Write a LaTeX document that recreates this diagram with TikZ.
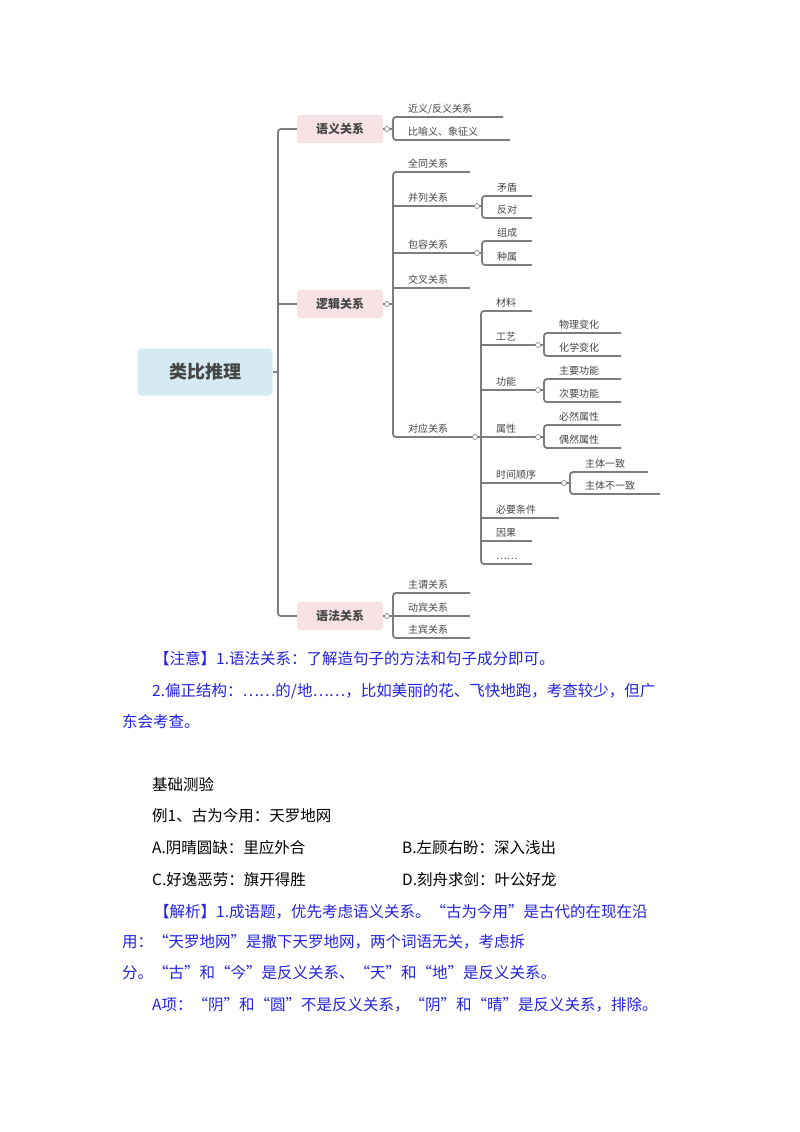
\documentclass[tikz,border=0pt]{standalone}
\usepackage{fontspec}
\setmainfont{Noto Sans CJK SC}
\newfontfamily\cjk{Noto Sans CJK SC}
\definecolor{ln}{RGB}{125,125,125}
\definecolor{pinkbox}{RGB}{246,226,229}
\definecolor{rootbox}{RGB}{214,234,242}
\definecolor{txtblue}{RGB}{35,35,225}
\definecolor{mtxt}{RGB}{70,70,70}
\tikzset{
 br/.style={draw=ln,line width=1.8pt,rounded corners=3pt},
 lab/.style={font=\fontsize{10}{12}\selectfont,text=mtxt,anchor=base west,inner sep=0},
 knob/.style={draw=ln,line width=0.6pt,fill=white,circle,inner sep=0,minimum size=5pt},
 mbox/.style={fill=pinkbox,rounded corners=3pt,minimum width=86pt,minimum height=28pt,font=\fontsize{12}{14}\selectfont\bfseries,text=mtxt},
 body/.style={font=\fontsize{15.5}{18}\selectfont,anchor=base west,inner sep=0},
}
\newcommand{\brline}[4]{\draw[br] (#1,#2) -- (#3,#2); \node[lab] at (#1+15,#2-5) {#4};}
\newcommand{\brgroup}[5]{\draw[br] (#3,#2) -- (#1,#2) -- (#1,#4) -- (#5,#4);}
\begin{document}
\begin{tikzpicture}[x=1pt,y=-1pt]
\useasboundingbox[fill=white] (0,0) rectangle (800,1132);
% root
\node[fill=rootbox,rounded corners=4pt,minimum width=135pt,minimum height=47pt,font=\fontsize{18}{20}\selectfont\bfseries,text=mtxt] (root) at (205,372) {类比推理};
\node[mbox] (yy) at (340,129) {语义关系};
\node[mbox] (lj) at (340,304) {逻辑关系};
\node[mbox] (yf) at (340,616) {语法关系};
\draw[br] (yy.west) -- (278,129) -- (278,616) -- (yf.west);
\draw[br] (root.east) -- (278,372);
\draw[br] (278,304) -- (lj.west);
% semantic
\draw[br] (yy.east) -- (393,129);
\brgroup{393}{117}{503}{140}{510}
\node[lab] at (408,112) {近义/反义关系};
\node[lab] at (408,135) {比喻义、象征义};
% logic
\draw[br] (lj.east) -- (393,304);
\brgroup{393}{172}{470}{437}{482}
\brline{393}{206}{482}{并列关系}
\brline{393}{253}{482}{包容关系}
\brline{393}{288}{470}{交叉关系}
\node[lab] at (408,167) {全同关系};
\node[lab] at (408,432) {对应关系};
\brgroup{482}{196}{532}{218}{532}
\node[lab] at (497,191) {矛盾}; \node[lab] at (497,213) {反对};
\brgroup{482}{241}{532}{265}{532}
\node[lab] at (497,236) {组成}; \node[lab] at (497,260) {种属};
% correspondence
\brgroup{481}{311}{532}{564}{532}
\node[lab] at (496,306) {材料};
\brline{481}{345}{544}{工艺}
\brline{481}{390}{544}{功能}
\brline{481}{437}{544}{属性}
\brline{481}{483}{570}{时间顺序}
\brline{481}{518}{559}{必要条件}
\brline{481}{541}{532}{因果}
\node[lab] at (496,559) {……};
\brgroup{544}{333}{621}{356}{621}
\node[lab] at (559,328) {物理变化}; \node[lab] at (559,351) {化学变化};
\brgroup{544}{379}{621}{402}{621}
\node[lab] at (559,374) {主要功能}; \node[lab] at (559,397) {次要功能};
\brgroup{544}{425}{621}{448}{621}
\node[lab] at (559,420) {必然属性}; \node[lab] at (559,443) {偶然属性};
\brgroup{570}{472}{648}{494}{660}
\node[lab] at (585,467) {主体一致}; \node[lab] at (585,489) {主体不一致};
% grammar
\draw[br] (yf.east) -- (393,616);
\brgroup{393}{593}{470}{638}{470}
\brline{393}{616}{470}{动宾关系}
\node[lab] at (408,588) {主谓关系}; \node[lab] at (408,633) {主宾关系};
% knobs
\node[knob] at (387,129) {}; \node[knob] at (387,304) {}; \node[knob] at (387,616) {};
\node[knob] at (477,206) {}; \node[knob] at (477,253) {}; \node[knob] at (475,437) {};
\node[knob] at (538,345) {}; \node[knob] at (538,390) {}; \node[knob] at (538,437) {};
\node[knob] at (564,483) {};
% body text
\begin{scope}[every node/.style={body}]
\node[text=txtblue] (t1) at (154,664) {【注意】1.语法关系：了解造句子的方法和句子成分即可。};
\node[text=txtblue] (t2) at (152,696) {2.偏正结构：……的/地……，比如美丽的花、飞快地跑，考查较少，但广};
\node[text=txtblue] (t3) at (122,727) {东会考查。};
\node (t4) at (152,790) {基础测验};
\node (t5) at (152,821) {例1、古为今用：天罗地网};
\node (t6) at (152,853) {A.阴晴圆缺：里应外合};
\node (t7) at (402,853) {B.左顾右盼：深入浅出};
\node (t8) at (152,885) {C.好逸恶劳：旗开得胜};
\node (t9) at (402,885) {D.刻舟求剑：叶公好龙};
\node[text=txtblue] (t10) at (154,917) {【解析】1.成语题，优先考虑语义关系。“古为今用”是古代的在现在沿};
\node[text=txtblue] (t11) at (122,947) {用：“天罗地网”是撒下天罗地网，两个词语无关，考虑拆};
\node[text=txtblue] (t12) at (122,978) {分。“古”和“今”是反义关系、“天”和“地”是反义关系。};
\node[text=txtblue] (t13) at (152,1010) {A项：“阴”和“圆”不是反义关系，“阴”和“晴”是反义关系，排除。};
\end{scope}
\end{tikzpicture}
\end{document}
